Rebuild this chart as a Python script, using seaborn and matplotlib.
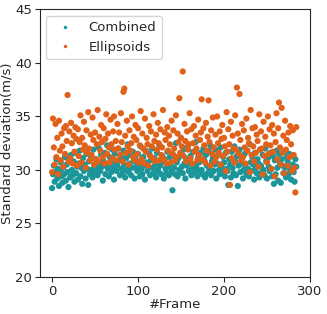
import numpy as np
import pandas as pd
import seaborn as sns
from matplotlib import pyplot as plt

combined = [
    28.3, 29.6, 30.4, 28.9, 29.8, 31.0, 29.2, 30.1, 28.5, 29.9, 30.7, 29.4, 28.8, 30.2, 29.6,
    31.2, 29.0, 30.5, 29.8, 28.4, 30.9, 29.3, 31.4, 30.0, 29.5, 30.8, 28.9, 31.6, 29.7, 30.3,
    29.1, 30.6, 31.8, 29.4, 30.2, 28.7, 31.1, 29.9, 30.5, 29.2, 31.5, 30.1, 28.6, 30.8, 29.6,
    31.3, 30.0, 29.3, 31.9, 30.4, 29.7, 31.0, 30.2, 29.5, 32.1, 30.7, 29.9, 31.4, 30.3, 29.0,
    30.8, 31.6, 29.6, 30.4, 32.3, 30.1, 29.4, 31.2, 30.6, 29.8, 31.9, 30.2, 29.1, 31.5, 30.7,
    29.9, 30.4, 32.0, 30.9, 29.5, 31.3, 30.1, 29.7, 31.8, 30.5, 29.3, 31.1, 30.0, 32.4, 29.8,
    30.6, 31.4, 29.5, 30.2, 31.7, 30.8, 29.2, 31.0, 30.3, 29.9, 31.5, 30.6, 29.4, 32.2, 30.1,
    29.6, 31.2, 30.4, 29.1, 31.8, 30.7, 29.9, 30.3, 31.5, 29.5, 30.9, 32.0, 30.2, 29.7, 31.1,
    30.5, 29.3, 31.6, 30.0, 29.8, 32.3, 30.4, 29.6, 31.3, 30.8, 29.2, 31.0, 30.1, 29.7, 31.7,
    30.3, 29.5, 31.2, 30.6, 29.9, 28.1, 31.4, 30.2, 29.6, 32.5, 30.7, 29.4, 31.1, 30.0, 29.8,
    31.5, 30.3, 29.7, 31.9, 30.6, 29.2, 31.0, 30.4, 32.2, 29.9, 30.8, 31.3, 29.5, 30.1, 31.7,
    30.5, 29.8, 32.6, 30.2, 29.4, 31.2, 30.7, 29.9, 31.6, 30.0, 29.6, 32.0, 30.9, 29.3, 31.4,
    30.4, 29.7, 31.8, 30.1, 32.3, 29.5, 30.8, 31.1, 29.9, 30.5, 31.9, 29.2, 30.6, 31.4, 30.0,
    29.6, 32.1, 30.3, 29.8, 31.2, 30.7, 29.4, 31.6, 30.1, 29.9, 28.6, 31.0, 30.5, 29.3, 31.7,
    30.2, 29.7, 32.2, 30.8, 29.5, 31.3, 28.5, 30.4, 31.9, 29.8, 30.6, 31.1, 29.2, 30.0, 31.5,
    30.3, 29.6, 31.8, 30.1, 29.4, 32.4, 30.7, 29.9, 31.2, 30.5, 29.1, 31.6, 30.2, 29.7, 31.0,
    30.6, 29.3, 31.9, 30.4, 29.8, 31.4, 30.0, 29.5, 32.0, 30.8, 29.2, 31.1, 30.3, 29.9, 31.6,
    30.1, 29.4, 31.3, 28.7, 30.9, 29.6, 31.8, 30.2, 29.0, 31.5, 30.6, 28.8, 31.0, 30.4, 29.7,
    31.7, 30.2, 29.3, 31.2, 30.8, 29.6, 31.5, 30.0, 29.1, 31.3, 30.5, 29.8, 28.9, 31.0, 30.3,
]

ellipsoids = [
    29.8, 34.8, 32.1, 30.5, 34.3, 31.2, 33.0, 29.6, 34.6, 31.8, 30.9, 33.4, 32.2, 30.3, 33.9,
    31.5, 34.1, 32.7, 37.0, 30.8, 33.6, 31.1, 34.4, 32.5, 30.6, 33.2, 31.7, 34.0, 32.9, 30.4,
    33.8, 31.3, 32.6, 35.1, 30.7, 33.0, 31.9, 34.5, 32.3, 30.2, 33.7, 31.6, 35.4, 32.0, 30.9,
    33.3, 31.4, 34.9, 32.8, 30.5, 33.5, 31.0, 32.4, 35.6, 30.8, 33.1, 31.8, 34.2, 32.6, 31.2,
    33.9, 30.6, 32.9, 35.2, 31.5, 33.4, 32.1, 30.7, 34.7, 32.4, 31.1, 33.6, 35.0, 31.9, 32.7,
    30.9, 34.3, 32.0, 33.5, 31.4, 35.3, 32.6, 30.8, 37.3, 37.6, 33.2, 31.6, 34.6, 32.2, 30.5,
    33.7, 31.8, 32.5, 35.0, 31.2, 33.1, 30.9, 34.2, 32.8, 31.5, 33.9, 30.7, 32.3, 35.5, 31.0,
    33.4, 32.0, 30.6, 34.8, 31.7, 33.0, 32.4, 30.4, 34.1, 31.3, 33.6, 32.2, 31.1, 35.2, 32.7,
    30.8, 33.3, 31.9, 34.4, 32.5, 30.9, 33.8, 31.4, 32.1, 35.6, 31.0, 33.5, 32.8, 30.6, 34.0,
    31.8, 33.2, 32.4, 30.7, 34.6, 31.5, 33.7, 32.0, 30.9, 35.1, 31.2, 33.4, 32.6, 36.7, 31.6,
    33.0, 32.2, 39.2, 31.3, 34.3, 32.7, 30.8, 33.6, 31.9, 32.4, 35.3, 31.1, 33.8, 30.6, 32.5,
    34.1, 31.7, 33.2, 32.0, 30.9, 34.7, 31.4, 32.8, 33.5, 36.6, 31.0, 33.9, 32.3, 30.7, 34.4,
    31.8, 33.1, 36.5, 32.6, 30.4, 33.7, 31.5, 34.9, 32.1, 30.8, 33.3, 31.2, 35.0, 32.5, 31.6,
    33.6, 30.5, 32.9, 34.2, 31.3, 33.0, 32.2, 29.9, 35.4, 31.7, 33.8, 32.4, 28.6, 34.5, 31.1,
    33.2, 32.0, 30.7, 35.1, 31.9, 37.7, 33.4, 31.5, 37.1, 32.8, 30.9, 34.3, 31.2, 33.7, 32.1,
    30.6, 34.8, 31.8, 33.0, 32.5, 29.8, 35.6, 31.4, 33.9, 32.2, 30.8, 34.0, 31.6, 33.3, 32.7,
    30.3, 35.2, 31.9, 33.6, 32.0, 29.6, 34.5, 31.3, 33.1, 32.4, 30.7, 35.0, 31.5, 33.8, 32.3,
    30.1, 34.2, 31.7, 33.4, 29.4, 32.6, 35.3, 31.0, 33.9, 36.3, 32.1, 30.5, 35.8, 31.6, 33.2,
    29.7, 34.6, 31.9, 32.8, 30.4, 33.5, 31.2, 34.1, 32.4, 29.9, 33.7, 31.4, 30.2, 27.9, 34.0,
]

frames = list(range(len(combined)))

df = pd.DataFrame({
    'Frame': frames + frames,
    'Std': combined + ellipsoids,
    'Method': ['Combined'] * len(combined) + ['Ellipsoids'] * len(ellipsoids),
})

sns.set_style('ticks')
fig = plt.figure(figsize=(3.27, 3.14), dpi=100)
ax = fig.add_axes([0.122, 0.118, 0.826, 0.852])
sns.scatterplot(x='Frame', y='Std', hue='Method', data=df, ax=ax,
                palette={'Combined': '#1a9599', 'Ellipsoids': '#e0621a'},
                s=20, linewidth=0)
ax.set_ylim(20, 45)
ax.set_yticks([20, 25, 30, 35, 40, 45])
ax.set_xticks([0, 100, 200, 300])
ax.tick_params(labelsize=9.5, pad=2)
ax.set_xlabel('#Frame', fontsize=9.5, labelpad=0)
ax.set_ylabel('Standard deviation(m/s)', fontsize=9.5, labelpad=1)
ax.legend(loc='upper left', fontsize=9.5, markerscale=0.55, title=None)
fig.savefig('out.png', dpi=100)
